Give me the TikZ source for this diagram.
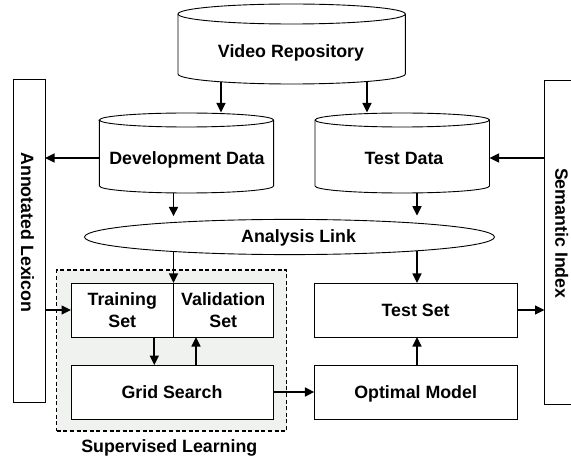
\documentclass[tikz,border=0pt]{standalone}
\usepackage{fontspec}
\setmainfont{Liberation Sans}
\usetikzlibrary{arrows.meta,shapes.geometric}
\pgfdeclarelayer{back}
\pgfdeclarelayer{wires}
\pgfsetlayers{back,wires,main}
\definecolor{groupfill}{RGB}{240,242,240}
% drum (cylinder) outline around a named node: node, x radius, y radius of the end ellipses
\newcommand\drum[3]{%
  \draw[outline,fill=white] ([yshift=-#3]#1.north west) -- ([yshift=#3]#1.south west)
     arc[start angle=180,end angle=360,x radius=#2,y radius=#3]
     -- ([yshift=-#3]#1.north east)
     arc[start angle=0,end angle=180,x radius=#2,y radius=#3] -- cycle;
  \draw[outline] ([yshift=-#3]#1.north west)
     arc[start angle=180,end angle=360,x radius=#2,y radius=#3];
}
\begin{document}
\begin{tikzpicture}[x=1pt,y=1pt,
  lbl/.style={font=\bfseries\fontsize{17.8}{21.5}\selectfont, inner sep=0pt},
  captext/.style={lbl, text height=12.7pt, text depth=0pt},
  outline/.style={draw=black, line width=0.9pt},
  holder/.style={inner sep=0pt, outer sep=0pt},
  boxnode/.style={holder, outline, fill=white, rectangle},
  arr/.style={line width=1.7pt, -{Triangle[length=9.5pt,width=9pt]}}]

\useasboundingbox (0,0) rectangle (571,456);

% storage drums
\node[holder, minimum width=227.3pt, minimum height=80pt] (vr) at (291.65,412) {};
\node[holder, minimum width=174.2pt, minimum height=80pt] (dev) at (186.5,303) {};
\node[holder, minimum width=174.5pt, minimum height=80pt] (tdat) at (402.25,303) {};
\drum{vr}{113.65pt}{10pt}
\drum{dev}{87.1pt}{7pt}
\drum{tdat}{87.25pt}{7pt}

% link stage
\node[holder, outline, fill=white, ellipse, minimum width=410pt, minimum height=35.2pt] (al) at (289.5,219) {};

% side panels
\node[boxnode, minimum width=32pt, minimum height=323.4pt] (lex) at (29,215) {};
\node[holder, minimum width=26.5pt, minimum height=324pt] (sem) at (557.75,214) {};
\draw[outline] (sem.north east) -- (sem.north west) -- (sem.south west) -- (sem.south east);

% supervised learning group
\begin{pgfonlayer}{back}
  \fill[white] (0,0) rectangle (571,456);
  \node[holder, draw=black, line width=1.5pt, dash pattern=on 4pt off 2.6pt, fill=groupfill,
        minimum width=230pt, minimum height=161pt] (sup) at (171.7,105.5) {};
\end{pgfonlayer}

% process boxes
\node[boxnode, lbl, align=center, minimum width=102.5pt, minimum height=54pt] (train) at (122.25,146) {Training\\Set};
\node[boxnode, lbl, align=center, minimum width=99.5pt, minimum height=54pt] (val) at (223.25,146) {Validation\\Set};
\node[boxnode, captext, minimum width=202pt, minimum height=54pt] (grid) at (172,64) {Grid Search};
\node[boxnode, captext, minimum width=202.7pt, minimum height=54pt] (tset) at (415.65,146) {Test Set};
\node[boxnode, captext, minimum width=202.7pt, minimum height=54pt] (opt) at (415.65,64) {Optimal Model};

% labels
\node[captext] (vr-t) at (291,404.5) {Video Repository};
\node[captext] (dev-t) at (187,298) {Development Data};
\node[captext] (tdat-t) at (404,298) {Test Data};
\node[captext] (al-t) at (298.6,219.7) {Analysis Link};
\node[captext, rotate=-90] (lex-t) at (27.5,223.5) {Annotated Lexicon};
\node[captext, rotate=-90] (sem-t) at (561.7,222.7) {Semantic Index};
\node[captext] (sup-t) at (169.3,10) {Supervised Learning};

% connector columns and rows
\coordinate (cA) at (173.5,0);
\coordinate (cB) at (417,0);
\coordinate (c221) at (221,0);
\coordinate (c367) at (367,0);
\coordinate (c154) at (154.3,0);
\coordinate (c196) at (196,0);
\coordinate (rA) at (0,298);

\begin{pgfonlayer}{wires}
  \draw[arr, shorten >=0.6pt] (vr.center -| c221) -- (dev.north -| c221);
  \draw[arr, shorten >=0.6pt] (vr.center -| c367) -- (tdat.north -| c367);
  \draw[arr] (dev.center |- rA) -- (lex.east |- rA);
  \draw[arr] (sem.west |- rA) -- (tdat.east |- rA);
  \draw[arr, shorten >=3.1pt] (dev.center -| cA) -- (al.north -| cA);
  \draw[arr, shorten >=3.8pt] (tdat.center -| cB) -- (al.north -| cB);
  \draw[arr] (al.center -| cA) -- (train.north east);
  \draw[arr] (al.center -| cB) -- (tset.north -| cB);
  \draw[arr] (train.south -| c154) -- (grid.north -| c154);
  \draw[arr] (grid.north -| c196) -- (val.south -| c196);
  \draw[arr] (lex.east |- train.west) -- (train.west);
  \draw[arr] (tset.east) -- (sem.west |- tset.east);
  \draw[arr] (grid.east) -- (opt.west);
  \draw[arr] (opt.north -| cB) -- (tset.south -| cB);
\end{pgfonlayer}
\end{tikzpicture}
\end{document}
